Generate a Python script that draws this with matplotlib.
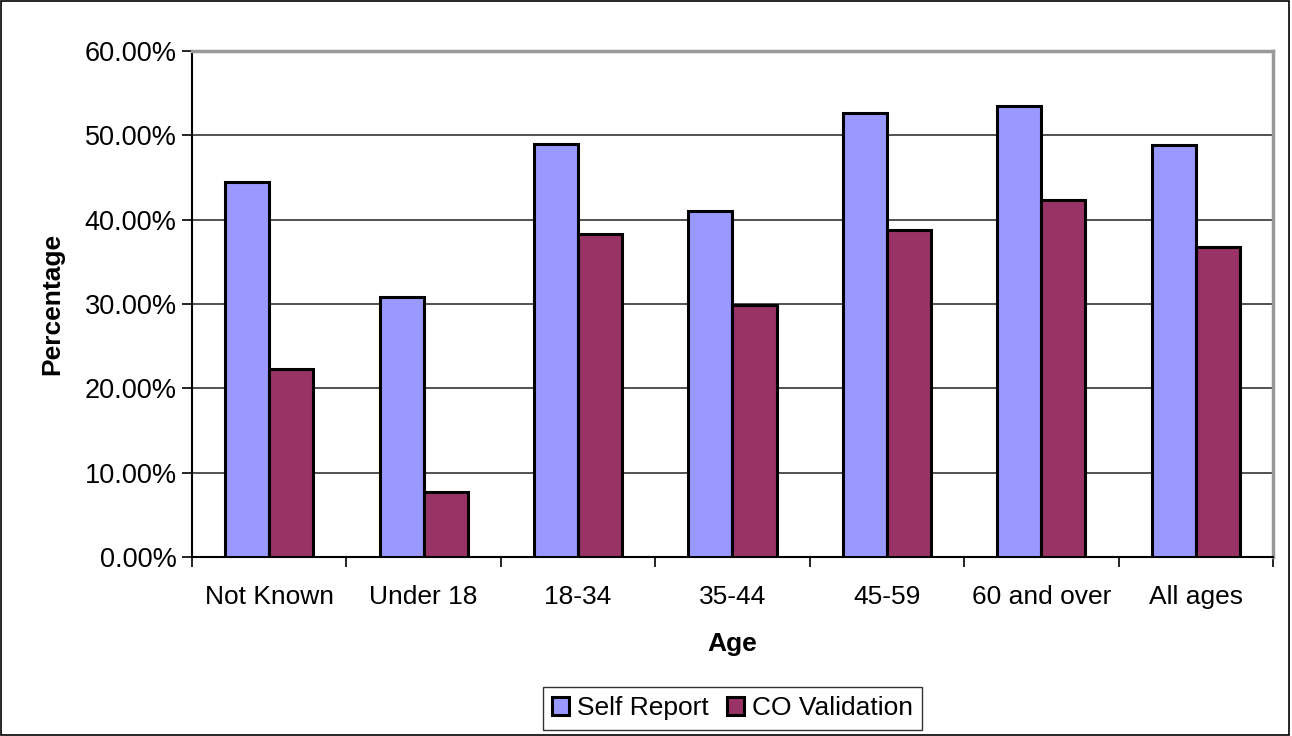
import numpy as np
import matplotlib.pyplot as plt
from matplotlib.patches import Rectangle
from matplotlib.ticker import PercentFormatter

plt.rcParams['font.family'] = ['Liberation Sans', 'DejaVu Sans']

# -- Data --
categories = ['Not Known', 'Under 18', '18-34', '35-44', '45-59', '60 and over', 'All ages']
self_report = [44.5, 30.8, 49.0, 41.0, 52.6, 53.5, 48.9]
co_validation = [22.3, 7.7, 38.3, 29.9, 38.8, 42.3, 36.8]

fig = plt.figure(figsize=(12.92, 7.36), dpi=100)
ax = fig.add_axes([0.1486, 0.2432, 0.8367, 0.6875])

x = np.arange(len(categories))
w = 0.285
ax.bar(x - w / 2, self_report, w, color='#9999ff', edgecolor='black', linewidth=2.2,
       label='Self Report', zorder=3)
ax.bar(x + w / 2, co_validation, w, color='#993366', edgecolor='black', linewidth=2.2,
       label='CO Validation', zorder=3)

ax.set_xlim(-0.5, len(categories) - 0.5)
ax.set_ylim(0, 60)
ax.set_yticks(np.arange(0, 61, 10))
ax.yaxis.set_major_formatter(PercentFormatter(decimals=2))
ax.yaxis.grid(True, color='#333333', linewidth=1.2, zorder=0)

# category labels between boundary ticks
ax.set_xticks(np.arange(-0.5, len(categories), 1))
ax.set_xticklabels([])
ax.set_xticks(x, minor=True)
ax.set_xticklabels(categories, minor=True)
ax.tick_params(axis='x', which='minor', length=0, pad=20, labelsize=19)
ax.tick_params(axis='x', which='major', length=7, width=1.2, direction='out')
ax.tick_params(axis='y', length=7, width=1.2, direction='out', labelsize=19.5, pad=4)

for s in ['left', 'bottom']:
    ax.spines[s].set_color('black')
    ax.spines[s].set_linewidth(1.5)
for s in ['top', 'right']:
    ax.spines[s].set_color('#999999')
    ax.spines[s].set_linewidth(2.5)

ax.set_xlabel('Age', fontsize=19, fontweight='bold', labelpad=17)
ax.set_ylabel('Percentage', fontsize=19, fontweight='bold', labelpad=15)

leg = ax.legend(loc='upper center', bbox_to_anchor=(0.5, -0.257), ncol=2, fontsize=19,
                frameon=True, fancybox=False, edgecolor='black', handlelength=0.65,
                handleheight=0.65, handletextpad=0.3, columnspacing=0.7, borderpad=0.35,
                borderaxespad=0)
leg.get_frame().set_linewidth(1.0)

fig.patches.append(Rectangle((0.001, 0.001), 0.997, 0.997, transform=fig.transFigure,
                             fill=False, edgecolor='black', linewidth=1.2))

fig.savefig('out.png', dpi=100)
